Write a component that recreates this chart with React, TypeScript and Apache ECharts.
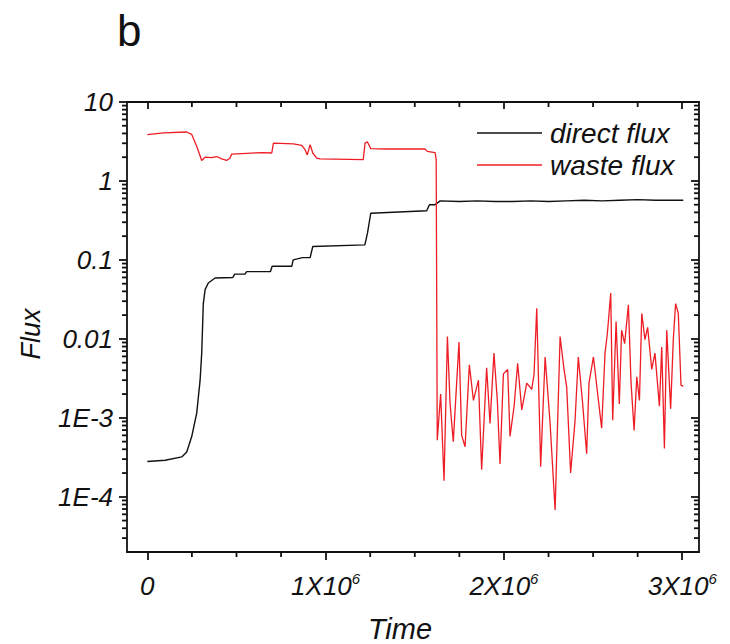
import React, { useEffect, useRef } from "react";
import * as echarts from "echarts";

const FONT = '"Liberation Sans", Arial, Helvetica, sans-serif';

// ---- data ----
const directTime = [
  0, 100000, 193000, 221000, 249000, 277000, 296000, 305000, 314000, 324000,
  342000, 380000, 480000, 490000, 548000, 557000, 690000, 700000, 810000, 818000,
  870000, 913000, 928000, 1220000, 1235000, 1253000, 1567000, 1582000, 1614000, 1642000,
  1750000, 1850000, 1950000, 2050000, 2150000, 2250000, 2350000, 2450000, 2550000, 2650000,
  2750000, 2850000, 2950000, 3006000,
];
const directFlux = [
  2.8e-4, 2.9e-4, 3.2e-4, 3.7e-4, 5.8e-4, 1.15e-3, 3.0e-3, 6.6e-3, 2.8e-2, 4.2e-2,
  5.1e-2, 5.9e-2, 6.0e-2, 6.6e-2, 6.6e-2, 7.1e-2, 7.1e-2, 8.3e-2, 8.3e-2, 0.1,
  0.107, 0.107, 0.148, 0.155, 0.22, 0.39, 0.42, 0.5, 0.5, 0.56,
  0.55, 0.56, 0.55, 0.55, 0.56, 0.55, 0.56, 0.57, 0.56, 0.57,
  0.58, 0.57, 0.57, 0.57,
];

const wasteTime = [
  0, 90000, 221000, 249000, 277000, 305000, 324000, 360000, 389000, 417000,
  445000, 464000, 473000, 557000, 651000, 698000, 707000, 819000, 866000, 884000,
  897000, 913000, 928000, 950000, 969000, 1211000, 1221000, 1234000, 1253000, 1343000,
  1557000, 1570000, 1614000, 1620000, 1626000, 1645000, 1664000, 1683000, 1698000, 1716000,
  1748000, 1763000, 1782000, 1806000, 1829000, 1857000, 1875000, 1903000, 1922000, 1944000,
  1963000, 1978000, 1997000, 2021000, 2034000, 2057000, 2077000, 2100000, 2128000, 2156000,
  2169000, 2184000, 2206000, 2231000, 2259000, 2287000, 2315000, 2337000, 2352000, 2374000,
  2399000, 2417000, 2440000, 2464000, 2477000, 2502000, 2530000, 2548000, 2567000, 2580000,
  2599000, 2610000, 2629000, 2647000, 2660000, 2677000, 2698000, 2713000, 2730000, 2745000,
  2760000, 2773000, 2791000, 2806000, 2829000, 2847000, 2872000, 2885000, 2900000, 2913000,
  2935000, 2950000, 2963000, 2978000, 2993000, 3006000,
];
const wasteFlux = [
  3.87, 4.07, 4.17, 3.89, 2.75, 1.82, 2.0, 1.98, 2.04, 1.9,
  1.82, 1.95, 2.19, 2.24, 2.29, 2.26, 3.02, 2.95, 2.82, 2.51,
  2.14, 2.88, 2.26, 1.95, 1.9, 1.86, 3.02, 3.13, 2.57, 2.54,
  2.54, 2.37, 2.29, 1.86, 5.2e-4, 2.0e-3, 1.6e-4, 1.07e-2, 1.5e-3, 5.0e-4,
  9.1e-3, 6.0e-4, 4.3e-4, 4.7e-3, 1.66e-3, 3.0e-3, 2.2e-4, 4.3e-3, 8.5e-4, 6.6e-3,
  1.66e-3, 2.6e-4, 3.6e-3, 4.1e-3, 5.8e-4, 1.4e-3, 4.9e-3, 1.26e-3, 2.75e-3, 2.3e-3,
  3.6e-3, 2.45e-2, 2.4e-4, 5.9e-3, 8.5e-4, 6.8e-5, 1.07e-2, 4.1e-3, 2.45e-3, 2.0e-4,
  9.3e-4, 5.9e-3, 1.66e-3, 3.5e-4, 2.75e-3, 5.9e-3, 1.66e-3, 7.4e-4, 6.6e-3, 1.17e-2,
  3.8e-2, 9.3e-4, 1.66e-2, 1.5e-3, 1.29e-2, 8.7e-3, 2.7e-2, 2.75e-3, 6.9e-4, 3.3e-3,
  1.66e-3, 2.1e-2, 9.8e-3, 1.4e-2, 4.1e-3, 6.6e-3, 1.4e-3, 7.9e-3, 4.1e-4, 1.29e-2,
  1.3e-3, 1.0e-2, 2.8e-2, 2.1e-2, 2.6e-3, 2.5e-3,
];

const seriesNames = ["direct flux", "waste flux"];

// ---- axes ----
const xMin = -114000;
const xMax = 3094000;
const xMajorTicks = [0, 1000000, 2000000, 3000000];
const xTickLabels = ["0", "1X10^6", "2X10^6", "3X10^6"];
const xMinorTicks = [
  250000, 500000, 750000, 1250000, 1500000, 1750000, 2250000, 2500000, 2750000,
];

const yMin = 2e-5;
const yMax = 10;
const yMajorTicks = [1e-4, 1e-3, 1e-2, 1e-1, 1, 10];
const yTickLabels = ["1E-4", "1E-3", "0.01", "0.1", "1", "10"];
const yMinorTicks = [
  3e-5, 4e-5, 5e-5, 6e-5, 7e-5, 8e-5, 9e-5,
  2e-4, 3e-4, 4e-4, 5e-4, 6e-4, 7e-4, 8e-4, 9e-4,
  2e-3, 3e-3, 4e-3, 5e-3, 6e-3, 7e-3, 8e-3, 9e-3,
  2e-2, 3e-2, 4e-2, 5e-2, 6e-2, 7e-2, 8e-2, 9e-2,
  0.2, 0.3, 0.4, 0.5, 0.6, 0.7, 0.8, 0.9,
  2, 3, 4, 5, 6, 7, 8, 9,
];

const xTitle = "Time";
const yTitle = "Flux";
const panelLabel = "b";

const AXIS_COLOR = "#111";
const RED = "#ee1d25";
const BLACK = "#111";
const MINOR_LEN = 5;
const TICK_W = 1.8;

function xLabel(v: number): string {
  const i = xMajorTicks.findIndex((t) => Math.abs(t - v) < 1);
  if (i < 0) return "";
  const parts = xTickLabels[i].split("^");
  if (parts.length === 1) return `{m|${parts[0]}}`;
  return `{m|${parts[0]}}{s|${parts[1]}}`;
}

function yLabel(v: number): string {
  const e = Math.round(Math.log10(v));
  const i = yMajorTicks.findIndex((t) => Math.round(Math.log10(t)) === e);
  return i < 0 ? "" : yTickLabels[i];
}

export default function App() {
  const ref = useRef<HTMLDivElement>(null);

  useEffect(() => {
    document.body.style.margin = "0";
    if (!ref.current) return;
    const chart = echarts.init(ref.current, null, { renderer: "svg" });

    const lineStyle = { color: AXIS_COLOR, width: 1.8 };

    const texts = [
      {
        type: "text",
        id: "panel",
        x: 117,
        y: 30,
        style: {
          text: panelLabel,
          font: `44px ${FONT}`,
          fill: "#111",
          align: "left",
          verticalAlign: "middle",
        },
      },
      {
        type: "text",
        id: "ytitle",
        x: 31,
        y: 334,
        rotation: Math.PI / 2,
        style: {
          text: yTitle,
          font: `italic 27px ${FONT}`,
          fill: "#111",
          align: "center",
          verticalAlign: "middle",
        },
      },
      {
        type: "text",
        id: "xtitle",
        x: 400,
        y: 629,
        style: {
          text: xTitle,
          font: `italic 29px ${FONT}`,
          fill: "#111",
          align: "center",
          verticalAlign: "middle",
        },
      },
    ];

    chart.setOption({
      animation: false,
      backgroundColor: "#fff",
      grid: {
        left: 127,
        right: 31,
        top: 102,
        bottom: 92,
        containLabel: false,
        outerBoundsMode: "none",
      },
      legend: {
        data: seriesNames,
        orient: "vertical",
        left: 477,
        top: 118,
        padding: 0,
        itemGap: 2,
        itemWidth: 65,
        itemHeight: 1.6,
        icon: "rect",
        textStyle: {
          fontFamily: FONT,
          fontStyle: "italic",
          fontSize: 28,
          lineHeight: 30,
          color: "#111",
          padding: [0, 0, 0, 3],
        },
      },
      xAxis: [
        {
          type: "value",
          min: xMin,
          max: xMax,
          position: "bottom",
          splitLine: { show: false },
          axisLine: { show: true, onZero: false, lineStyle },
          axisTick: { show: true, customValues: xMajorTicks, length: 8, inside: false, lineStyle },
          axisLabel: {
            show: true,
            customValues: xMajorTicks,
            margin: 19,
            formatter: (v: number) => xLabel(v),
            rich: {
              m: {
                fontFamily: FONT,
                fontStyle: "italic",
                fontSize: 26,
                lineHeight: 30,
                color: "#111",
              },
              s: {
                fontFamily: FONT,
                fontStyle: "italic",
                fontSize: 15,
                lineHeight: 15,
                verticalAlign: "top",
                color: "#111",
              },
            },
          },
        },
        {
          type: "value",
          min: xMin,
          max: xMax,
          position: "top",
          splitLine: { show: false },
          axisLine: { show: true, onZero: false, lineStyle },
          axisTick: { show: true, customValues: xMajorTicks, length: 7, inside: true, lineStyle },
          axisLabel: { show: false },
        },
      ],
      yAxis: [
        {
          type: "log",
          logBase: 10,
          min: yMin,
          max: yMax,
          position: "left",
          splitLine: { show: false },
          axisLine: { show: true, onZero: false, lineStyle },
          axisTick: { show: true, customValues: yMajorTicks, length: 8, inside: false, lineStyle },
          axisLabel: {
            show: true,
            customValues: yMajorTicks,
            margin: 14,
            formatter: (v: number) => yLabel(v),
            fontFamily: FONT,
            fontStyle: "italic",
            fontSize: 26,
            color: "#111",
          },
        },
        {
          type: "log",
          logBase: 10,
          min: yMin,
          max: yMax,
          position: "right",
          splitLine: { show: false },
          axisLine: { show: true, onZero: false, lineStyle },
          axisTick: { show: true, customValues: yMajorTicks, length: 8, inside: true, lineStyle },
          axisLabel: { show: false },
        },
      ],
      series: [
        {
          name: seriesNames[0],
          type: "line",
          xAxisIndex: 0,
          yAxisIndex: 0,
          symbol: "none",
          color: BLACK,
          lineStyle: { color: BLACK, width: 1.4 },
          data: directTime.map((t, i) => [t, directFlux[i]]),
          z: 2,
        },
        {
          name: seriesNames[1],
          type: "line",
          xAxisIndex: 0,
          yAxisIndex: 0,
          symbol: "none",
          color: RED,
          lineStyle: { color: RED, width: 1.3 },
          data: wasteTime.map((t, i) => [t, wasteFlux[i]]),
          z: 3,
        },
      ],
      graphic: texts,
    });

    // Minor ticks, positioned through the chart's own axis scales.
    const finder = { xAxisIndex: 0, yAxisIndex: 0 };
    const toPx = (x: number, y: number): number[] =>
      chart.convertToPixel(finder as any, [x, y]) as number[];
    const tickStyle = { stroke: AXIS_COLOR, lineWidth: TICK_W };
    const ticks: any[] = [];
    xMinorTicks.forEach((v, i) => {
      const b = toPx(v, yMin);
      const t = toPx(v, yMax);
      ticks.push({
        type: "line",
        id: `xb${i}`,
        silent: true,
        z: 50,
        shape: { x1: b[0], y1: b[1], x2: b[0], y2: b[1] + MINOR_LEN },
        style: { ...tickStyle },
      });
      ticks.push({
        type: "line",
        id: `xt${i}`,
        silent: true,
        z: 50,
        shape: { x1: t[0], y1: t[1], x2: t[0], y2: t[1] + MINOR_LEN },
        style: { ...tickStyle },
      });
    });
    yMinorTicks.forEach((v, i) => {
      const l = toPx(xMin, v);
      const r = toPx(xMax, v);
      ticks.push({
        type: "line",
        id: `yl${i}`,
        silent: true,
        z: 50,
        shape: { x1: l[0] - MINOR_LEN, y1: l[1], x2: l[0], y2: l[1] },
        style: { ...tickStyle },
      });
      ticks.push({
        type: "line",
        id: `yr${i}`,
        silent: true,
        z: 50,
        shape: { x1: r[0] - MINOR_LEN, y1: r[1], x2: r[0], y2: r[1] },
        style: { ...tickStyle },
      });
    });
    chart.setOption({ graphic: [...texts, ...ticks] });

    return () => chart.dispose();
  }, []);

  return (
    <div
      ref={ref}
      style={{ position: "fixed", left: 0, top: 0, width: 730, height: 644 }}
    />
  );
}
